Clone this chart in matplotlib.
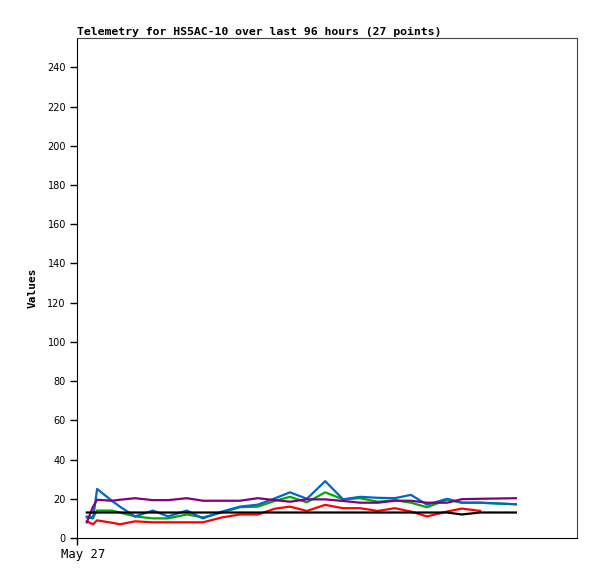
# -*- coding: utf-8 -*-
"""
telemetry plot for HS5AC-10
"""
from matplotlib import pyplot as plt
from matplotlib.transforms import ScaledTranslation
import numpy as np

# hours since May 27 00:00
hours = [2.2, 3.6, 4.5, 7.8, 9.6, 13.0, 17.0, 20.4, 24.6, 28.2, 32.5, 36.5,
         40.5, 44.4, 47.7, 51.5, 55.6, 59.6, 63.4, 67.4, 71.2, 74.8, 78.4,
         82.9, 86.2, 90.3, 98.3]

red = [8.5, 7, 9, 7.8, 7, 8.5, 8, 8, 8, 8, 10.5, 12, 12, 15, 16, 13.8, 16.9,
       15.2, 15.2, 13.8, 15.2, 13.5, 11, 13.5, 15, 13.8, np.nan]
green = [11, 10.5, 14, 14, 13, 11, 10, 10, 12, 10.5, 13, 15.7, 16, 19, 21,
         18.2, 23.3, 19.7, 20.3, 18.5, 19.3, 18, 15.7, 19.5, 18, 18, 17.2]
blue = [10.5, 10, 25, 19, 16, 11, 14, 11, 14, 10, 13.5, 16, 17, 20.3, 23.3,
        20, 29, 19.7, 21, 20.5, 20.3, 22, 17, 20, 18, 18, 17.2]
purple = [8, 16, 19.5, 19, 19.5, 20.3, 19.3, 19.3, 20.3, 19, 19, 19, 20.3,
          19.3, 18.5, 19.7, 19.7, 18.9, 18, 18, 19, 19, 18, 18, 19.8, 20, 20.3]
black = [13, 13, 13, 13, 13, 13, 13, 13, 13, 13, 13, 13, 13, 13, 13, 13, 13,
         13, 13, 13, 13, 13, 13, 13, 12, 13, 13]

yticks = list(range(0, 241, 20))

W, H = 597, 579
f = plt.figure(figsize=(W / 100, H / 100), dpi=100)
ax = f.add_axes([77 / W, (H - 538) / H, 500 / W, 500 / H])

lw = 1.6
ax.plot(hours, red, color='#ff0000', lw=lw)
ax.plot(hours, green, color='#00aa00', lw=lw)
ax.plot(hours, blue, color='#0066cc', lw=lw)
ax.plot(hours, purple, color='#800080', lw=lw)
ax.plot(hours, black, color='#000000', lw=lw)

ax.set_xlim(0, 112)
ax.set_ylim(0, 255)
ax.set_yticks(yticks)
ax.set_yticklabels([str(v) for v in yticks], fontsize=7, family='DejaVu Sans')
ax.set_xticks([0])
ax.set_xticklabels(['May 27'], fontsize=8.8, family='DejaVu Sans Mono')
ax.tick_params(direction='out', length=5, width=1, color='black', pad=3)
ax.tick_params(axis='x', pad=2.5)
# the date label sits a little right of its tick
for lab in ax.get_xticklabels():
    lab.set_transform(lab.get_transform() + ScaledTranslation(6 / 100, 0, f.dpi_scale_trans))

for s in ['top', 'right']:
    ax.spines[s].set_color('#444444')
for s in ['left', 'bottom']:
    ax.spines[s].set_color('black')

ax.set_ylabel('Values', fontsize=8, fontweight='bold', family='DejaVu Sans Mono',
              labelpad=7)
ax.set_title('Telemetry for HS5AC-10 over last 96 hours (27 points)',
             loc='left', fontsize=8.25, fontweight='bold', family='DejaVu Sans Mono',
             pad=2)

f.savefig('out.png', dpi=100)
